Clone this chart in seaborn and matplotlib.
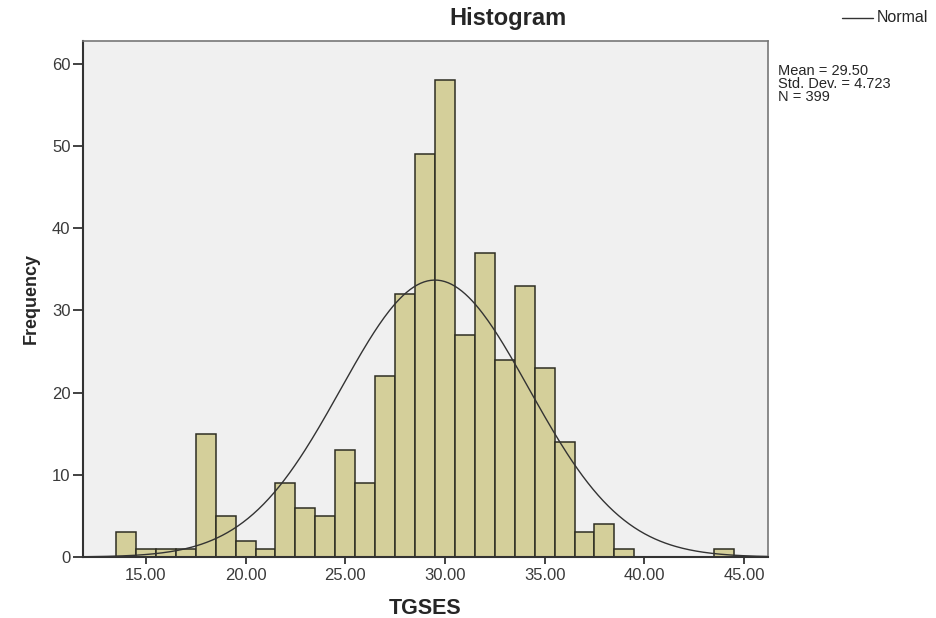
import numpy as np
import pandas as pd
import matplotlib
matplotlib.use("Agg")
import matplotlib.pyplot as plt
import seaborn as sns

# bin centres (width 1) and frequencies
scores = [14, 15, 16, 17, 18, 19, 20, 21, 22, 23, 24, 25, 26, 27, 28, 29,
          30, 31, 32, 33, 34, 35, 36, 37, 38, 39, 44]
freq = [3, 1, 1, 1, 15, 5, 2, 1, 9, 6, 5, 13, 9, 22, 32, 49,
        58, 27, 37, 24, 33, 23, 14, 3, 4, 1, 1]

mean_val = 29.50
sd_val = 4.723
n_val = 399

x_ticks = [15, 20, 25, 30, 35, 40, 45]
y_ticks = [0, 10, 20, 30, 40, 50, 60]

df = pd.DataFrame({"TGSES": scores, "freq": freq})

sns.set_theme(style="white")
plt.rcParams["font.family"] = ["Liberation Sans", "DejaVu Sans"]

fig = plt.figure(figsize=(9.37, 6.18), dpi=100)
ax = fig.add_axes([0.0886, 0.0987, 0.7310, 0.8350])
ax.set_facecolor("#F0F0F0")

sns.histplot(data=df, x="TGSES", weights="freq", discrete=True,
             color="#D4CF9A", edgecolor="#2E2E22", linewidth=1.1,
             alpha=1, ax=ax)

# normal curve scaled to counts (bin width 1)
xs = np.linspace(12, 46.5, 400)
ys = n_val / (sd_val * np.sqrt(2 * np.pi)) * np.exp(-0.5 * ((xs - mean_val) / sd_val) ** 2)
sns.lineplot(x=xs, y=ys, color="#333333", linewidth=1.0, ax=ax)

ax.set_xlim(11.85, 46.2)
ax.set_ylim(0, 62.8)
ax.set_xticks(x_ticks)
ax.set_xticklabels([f"{t:.2f}" for t in x_ticks], fontsize=12, color="#3A3A3A")
ax.set_yticks(y_ticks)
ax.set_yticklabels([str(t) for t in y_ticks], fontsize=12, color="#3A3A3A")
ax.tick_params(axis="x", direction="out", length=5, width=1.3,
               color="#333333", bottom=True, pad=3)
ax.tick_params(axis="y", direction="out", length=7, width=1.3,
               color="#333333", left=True, pad=2)

for side in ["left", "bottom"]:
    ax.spines[side].set_color("#333333")
    ax.spines[side].set_linewidth(1.5)
for side in ["top", "right"]:
    ax.spines[side].set_color("#777777")
    ax.spines[side].set_linewidth(1.2)

ax.set_xlabel("TGSES", fontsize=15.5, fontweight="bold", labelpad=11)
ax.set_ylabel("Frequency", fontsize=13, fontweight="bold", labelpad=9,
              family=["Liberation Sans Narrow", "Liberation Sans", "DejaVu Sans"])

fig.text(508 / 937, 1 - 19 / 618, "Histogram", ha="center", va="center",
         fontsize=17, fontweight="bold")

# legend entry and summary stats
fig.add_artist(plt.Line2D([842 / 937, 873 / 937], [1 - 18 / 618, 1 - 18 / 618],
                          color="#333333", linewidth=1.0))
fig.text(877 / 937, 1 - 18 / 618, "Normal", ha="left", va="center", fontsize=11.5)
fig.text(778 / 937, 1 - 64 / 618,
         f"Mean = {mean_val:.2f}\nStd. Dev. = {sd_val:.3f}\nN = {n_val}",
         ha="left", va="top", fontsize=10.5, linespacing=0.92)

fig.savefig("out.png", dpi=100, facecolor="white")
